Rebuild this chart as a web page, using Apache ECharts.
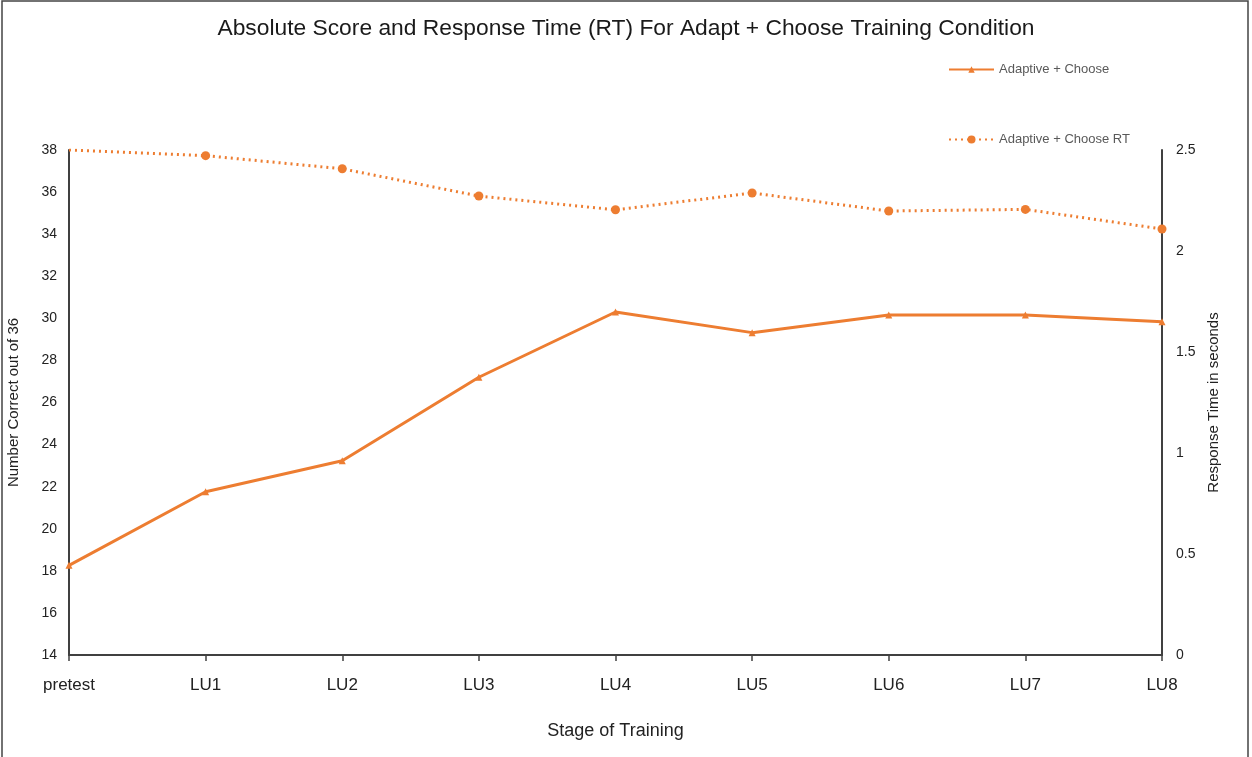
<!DOCTYPE html>
<html>
<head>
<meta charset="utf-8">
<script src="https://cdn.jsdelivr.net/npm/echarts@6/dist/echarts.min.js"></script>
<style>
html,body{margin:0;padding:0;background:#fff;}
#c{width:1252px;height:757px;}
</style>
</head>
<body>
<div id="c"></div>
<script>
const categories = ['pretest','LU1','LU2','LU3','LU4','LU5','LU6','LU7','LU8'];
const scoreValues = [18.26, 21.76, 23.23, 27.2, 30.3, 29.32, 30.16, 30.16, 29.84];
const rtValues = [2.5, 2.472, 2.407, 2.272, 2.204, 2.287, 2.198, 2.206, 2.109];
const leftTicks = {min: 14, max: 38, interval: 2};
const rightTicks = {min: 0, max: 2.5, interval: 0.5};
const seriesNames = ['Adaptive + Choose', 'Adaptive + Choose RT'];

const orange = '#ED7D31';
const font = '"Liberation Sans", Arial, sans-serif';
const chart = echarts.init(document.getElementById('c'), null, {renderer: 'canvas'});

const rtData = rtValues.map((v, i) => i === 0 ? {value: v, symbol: 'none'} : v);

chart.setOption({
  animation: false,
  backgroundColor: '#fff',
  textStyle: {fontFamily: font},
  title: {
    text: 'Absolute Score and Response Time (RT) For Adapt + Choose Training Condition',
    left: 'center', top: 12,
    textStyle: {fontFamily: font, fontSize: 22.8, fontWeight: 'normal', color: '#1a1a1a'}
  },
  graphic: [{
    type: 'rect', shape: {x: 2, y: 1, width: 1246, height: 760},
    style: {fill: 'none', stroke: '#444', lineWidth: 1.5}, silent: true
  }],
  legend: [{
    data: [seriesNames[0]], left: 948, top: 63, padding: 0,
    itemWidth: 45, itemHeight: 8, itemGap: 4,
    textStyle: {fontFamily: font, fontSize: 13, color: '#595959'}
  }, {
    data: [seriesNames[1]], left: 948, top: 133, padding: 0,
    itemWidth: 45, itemHeight: 10, itemGap: 4,
    textStyle: {fontFamily: font, fontSize: 13, color: '#595959'}
  }],
  grid: {left: 69, right: 90, top: 150, bottom: 102, containLabel: false, outerBoundsMode: 'none'},
  xAxis: {
    type: 'category', data: categories, boundaryGap: false,
    name: 'Stage of Training', nameLocation: 'middle', nameGap: 67,
    nameTextStyle: {fontFamily: font, fontSize: 18, color: '#222'},
    axisLine: {lineStyle: {color: '#404040', width: 2}},
    axisTick: {show: true, length: 6, lineStyle: {color: '#404040', width: 1.5}},
    axisLabel: {fontFamily: font, fontSize: 17, color: '#222', margin: 22},
    splitLine: {show: false}
  },
  yAxis: [{
    type: 'value', min: leftTicks.min, max: leftTicks.max, interval: leftTicks.interval,
    name: 'Number Correct out of 36', nameLocation: 'middle', nameGap: 48, nameRotate: 90,
    nameTextStyle: {fontFamily: font, fontSize: 15, color: '#222'},
    axisLine: {show: true, lineStyle: {color: '#404040', width: 2}},
    axisTick: {show: false},
    axisLabel: {fontFamily: font, fontSize: 14, color: '#222', margin: 12},
    splitLine: {show: false}
  }, {
    type: 'value', min: rightTicks.min, max: rightTicks.max, interval: rightTicks.interval,
    position: 'right',
    name: 'Response Time in seconds', nameLocation: 'middle', nameGap: 40, nameRotate: 90,
    nameTextStyle: {fontFamily: font, fontSize: 15, color: '#222'},
    axisLine: {show: true, lineStyle: {color: '#404040', width: 2}},
    axisTick: {show: false},
    axisLabel: {fontFamily: font, fontSize: 14, color: '#222', margin: 14},
    splitLine: {show: false}
  }],
  series: [{
    name: seriesNames[0], type: 'line', yAxisIndex: 0, data: scoreValues,
    symbol: 'triangle', symbolSize: 7, showAllSymbol: true,
    lineStyle: {color: orange, width: 3},
    itemStyle: {color: orange}
  }, {
    name: seriesNames[1], type: 'line', yAxisIndex: 1, data: rtData,
    symbol: 'circle', symbolSize: 9, showAllSymbol: true,
    lineStyle: {color: orange, width: 3, type: [2, 4]},
    itemStyle: {color: orange}
  }]
});
</script>
</body>
</html>
